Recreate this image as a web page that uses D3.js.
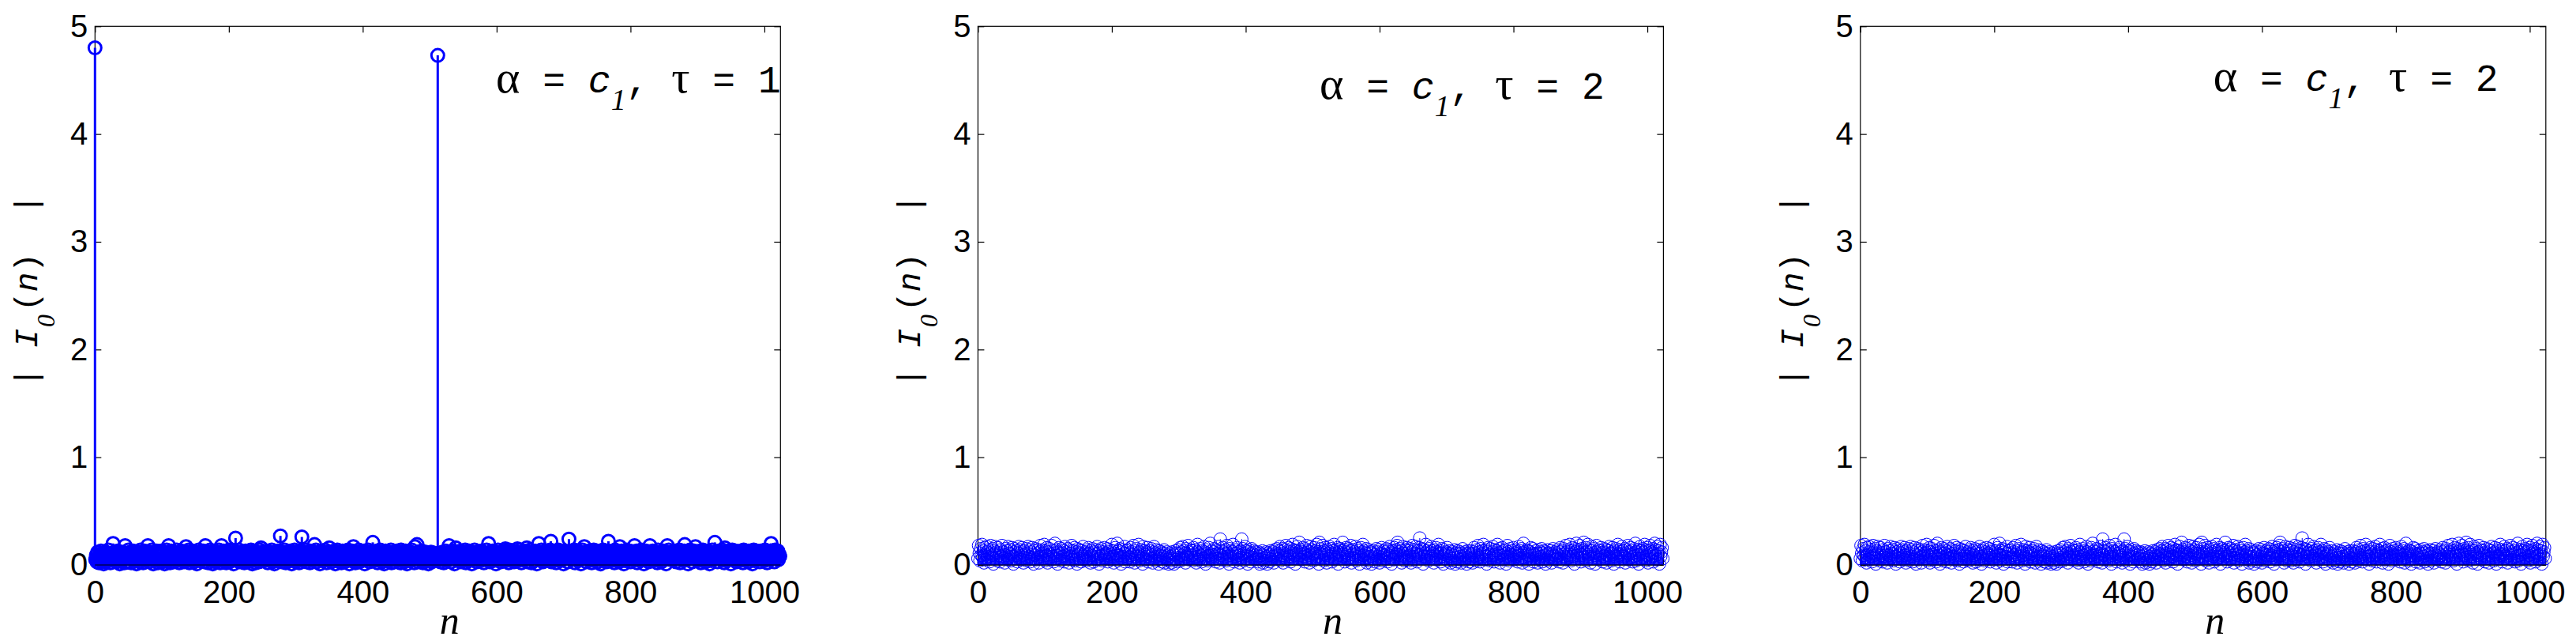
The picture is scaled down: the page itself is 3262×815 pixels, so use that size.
<!DOCTYPE html>
<html><head><meta charset="utf-8">
<script src="https://cdn.jsdelivr.net/npm/d3@7"></script>
<style>
html,body{margin:0;padding:0;background:#fff;}
svg{display:block;}
</style></head>
<body>
<script>
// ---- data (values in hundredths of |I0(n)|, n = 0..1023) ----
const xTicks = [0, 200, 400, 600, 800, 1000];
const yTicks = [0, 1, 2, 3, 4, 5];
const annotations = ["1", "2", "2"]; // tau values

const seriesTau1 = [
480,5,9,3,12,7,2,10,6,13,4,8,11,1,7,9,12,3,6,10,14,5,8,2,11,7,9,20,4,12,6,10,
3,8,13,5,9,1,11,7,12,4,10,6,2,18,8,11,3,9,14,6,7,12,2,10,5,13,8,4,11,9,1,7,
12,6,10,3,14,8,5,11,2,9,13,7,4,10,6,18,12,3,8,11,5,14,9,1,7,12,4,10,13,6,2,9,
8,11,5,13,3,10,7,12,1,9,6,14,4,11,18,8,2,10,13,5,7,12,3,9,11,6,14,4,8,10,2,12,
7,13,5,9,11,3,10,6,17,8,12,4,14,2,9,11,5,7,13,10,3,12,8,6,1,11,9,14,4,10,7,12,
5,9,13,3,8,18,11,6,10,2,12,7,14,4,9,11,1,8,13,6,10,3,12,5,9,14,7,2,11,18,6,10,
13,4,8,11,2,9,12,6,14,3,10,7,5,13,9,1,11,8,25,12,4,10,6,14,3,9,7,12,5,11,8,2,
10,13,6,9,3,12,7,11,4,14,8,1,10,5,13,9,2,12,6,11,7,3,14,8,16,10,5,12,9,4,11,6,
8,13,2,10,7,12,5,9,14,3,11,6,1,12,8,10,4,13,9,6,11,27,7,3,12,10,5,14,8,2,9,11,
6,12,4,10,13,7,1,9,11,5,14,8,3,12,10,6,9,2,13,7,11,26,4,10,8,12,5,14,3,9,11,6,
10,2,13,7,12,4,9,11,19,6,14,3,8,10,5,12,1,9,13,7,11,4,10,6,14,8,2,12,9,5,16,11,
7,3,12,10,6,13,9,1,11,8,14,4,10,5,12,7,2,9,13,6,11,3,10,8,12,5,14,7,1,9,11,4,
13,8,17,6,10,2,12,9,5,11,14,3,7,10,12,4,9,6,13,1,11,8,10,5,14,7,3,12,9,6,11,21,
8,4,12,10,6,13,2,9,11,7,14,5,10,3,12,8,1,9,13,6,11,4,10,7,12,5,14,2,8,11,9,3,
12,6,10,13,4,9,7,11,2,14,8,5,12,10,3,9,13,6,1,11,7,10,4,12,8,14,5,9,11,2,17,10,
6,19,9,3,12,7,10,5,13,8,2,11,9,6,12,4,10,7,1,11,8,5,12,3,9,10,6,11,4,8,7,9,
473,5,10,8,3,11,6,12,9,2,10,7,13,4,11,8,5,18,9,12,3,10,6,13,7,1,11,16,8,12,4,9,
11,6,13,3,10,8,12,5,9,14,2,11,7,10,4,13,8,6,12,1,9,11,5,14,7,10,3,12,8,6,11,9,
4,13,7,10,12,2,9,11,6,14,5,8,20,10,3,12,7,9,13,4,11,6,10,1,12,8,14,5,9,11,3,10,
7,12,6,9,13,15,4,10,8,11,2,14,6,12,9,5,10,13,3,8,11,7,12,15,4,9,6,14,10,2,11,8,
12,5,10,7,13,16,3,9,11,6,14,8,2,12,10,4,9,13,7,11,1,10,6,20,12,8,5,14,9,3,11,10,
6,13,9,4,12,10,7,11,14,22,3,12,8,10,5,13,9,2,11,7,14,6,10,12,4,9,13,8,1,11,10,6,
12,8,3,10,24,11,9,13,5,12,7,10,14,2,9,11,6,13,4,10,8,12,1,9,14,6,11,17,7,10,3,12,
9,5,13,11,7,10,2,12,8,14,4,9,11,6,13,3,10,7,12,1,11,9,5,14,8,10,6,12,3,13,9,22,
10,6,12,4,9,13,8,11,2,14,7,10,5,12,9,3,17,11,6,13,8,10,1,12,4,9,14,7,11,5,10,13,
3,9,12,6,10,8,18,11,5,13,2,10,7,12,9,4,14,11,6,10,1,12,8,13,5,9,11,3,10,18,7,12,
8,13,4,10,11,6,12,9,2,14,7,10,5,12,3,11,9,13,6,8,10,1,12,18,9,14,7,11,5,10,6,12,
11,5,9,13,3,10,8,12,6,14,2,9,11,7,10,4,13,19,8,12,5,10,1,11,9,14,6,12,3,10,7,13,
9,17,6,10,12,4,11,8,13,2,10,7,14,5,9,12,3,11,6,13,8,10,1,12,9,4,14,7,11,10,21,6,
12,8,3,10,13,6,9,11,5,14,7,12,2,16,10,4,11,9,13,6,8,12,1,10,14,5,9,11,7,13,3,10,
6,12,9,4,11,13,8,10,2,14,7,9,12,5,10,11,3,13,8,6,12,10,1,9,14,4,11,7,13,10,5,12,
9,3,11,13,6,10,8,12,4,14,7,10,2,12,9,11,5,13,20,8,10,6,12,3,14,9,11,7,13,5,10,8
];

const seriesTau2 = [
6,18,11,4,15,9,19,7,13,2,16,10,5,17,12,8,14,3,11,18,6,9,15,1,13,10,17,7,12,4,16,9,
11,3,14,8,18,6,12,10,2,15,9,13,5,17,7,11,14,4,10,16,8,1,12,15,6,13,9,3,11,17,7,14,
5,12,16,9,2,13,10,7,15,4,11,17,8,14,3,12,6,16,10,1,13,9,15,5,11,7,14,2,12,18,8,10,
14,6,11,19,4,13,9,16,2,12,7,15,10,5,18,8,13,3,11,20,6,14,9,1,12,16,7,10,4,15,11,8,
13,3,17,9,12,6,15,10,2,14,8,11,18,5,13,7,16,4,10,12,1,15,9,6,14,11,3,13,8,17,5,10,
12,8,4,14,10,16,6,11,2,13,9,15,7,3,12,10,14,5,17,8,11,1,13,6,15,9,4,12,10,16,7,11,
9,15,3,12,7,14,10,5,19,8,13,2,11,16,6,10,20,4,13,9,15,7,1,12,14,8,11,17,3,10,13,6,
14,7,11,3,16,9,12,5,18,10,2,13,8,15,6,11,19,4,12,9,14,7,1,17,10,13,5,12,8,16,3,11,
10,13,6,15,9,2,12,17,7,11,4,14,8,10,1,13,9,6,12,3,11,8,14,2,10,7,12,5,9,1,11,4,
8,2,12,6,10,1,9,13,5,11,3,14,7,10,16,4,12,9,17,6,13,11,2,15,8,10,18,5,12,14,7,9,
13,4,16,10,7,14,2,12,19,8,11,5,15,9,3,13,10,6,17,12,1,14,8,11,4,16,9,20,7,13,10,5,
12,15,8,3,14,10,6,17,11,2,24,9,13,5,16,12,7,10,14,4,18,8,11,1,15,9,13,6,12,19,10,3,
14,8,11,16,5,12,9,2,13,7,24,10,15,4,11,17,6,13,9,1,12,14,8,10,3,15,11,7,13,5,9,12,
6,10,3,12,8,1,11,5,9,13,2,10,7,4,12,8,1,11,6,9,3,13,10,5,8,12,2,14,7,11,9,15,
10,6,13,17,4,12,9,15,2,11,14,7,18,10,5,13,16,8,12,3,15,11,19,6,14,9,1,13,10,17,7,12,
21,9,14,5,12,16,8,11,3,15,10,18,6,13,9,2,12,17,7,14,11,4,16,10,13,6,19,8,12,1,21,11,
15,7,12,18,4,13,10,16,9,2,14,11,6,17,12,8,15,3,13,10,19,5,11,14,7,16,1,12,9,15,6,13,
10,21,8,14,3,12,16,9,11,5,15,7,13,18,2,10,14,6,12,9,17,4,11,15,8,13,1,10,16,7,12,19,
9,13,5,11,15,2,10,7,14,4,12,8,1,11,6,13,9,3,10,15,5,12,8,14,2,11,7,16,10,4,13,9,
12,6,15,10,3,14,9,17,7,12,1,13,11,5,16,8,14,10,18,21,12,9,15,6,13,2,11,17,8,4,10,14,
7,16,11,4,13,9,15,2,12,18,8,14,5,11,17,10,3,13,9,16,25,6,12,10,15,1,14,8,11,19,7,13,
10,4,15,12,8,17,6,13,11,2,14,9,16,5,12,10,19,7,13,3,11,15,8,1,14,10,6,12,9,16,4,11,
8,13,2,10,6,12,4,9,14,1,11,7,3,13,10,5,12,8,2,11,15,6,9,4,12,10,1,13,7,11,3,9,
13,6,10,2,12,16,8,11,4,14,9,18,7,12,3,15,10,6,13,19,11,5,14,8,1,12,16,9,10,4,15,7,
12,17,9,3,14,10,6,13,19,8,11,15,2,12,9,16,5,13,10,7,14,1,11,18,8,12,4,15,10,6,13,9,
16,5,11,14,8,12,3,10,17,9,13,6,15,2,11,20,7,12,10,4,14,8,13,1,12,9,16,6,11,15,3,10,
9,13,7,11,2,14,10,5,12,8,15,3,11,6,13,9,1,12,10,14,4,8,11,7,13,2,10,15,6,9,12,5,
11,7,14,9,3,12,16,6,10,13,2,15,8,11,18,5,12,9,14,7,19,10,4,13,16,8,11,1,15,12,20,9,
14,6,12,18,10,3,15,9,13,21,7,11,16,4,12,19,8,14,10,2,13,17,6,11,15,9,1,12,18,7,10,14,
5,13,9,16,11,3,12,8,15,6,10,2,14,9,13,17,7,11,4,12,16,10,1,13,8,15,6,11,19,9,14,3,
12,10,17,6,13,8,15,2,11,14,9,18,5,12,10,16,7,13,3,11,15,8,20,4,12,9,14,1,10,17,6,13,
11,15,7,12,19,4,14,9,16,2,13,10,18,6,12,8,15,3,11,20,9,14,5,17,10,13,1,19,8,12,16,6
];
const seriesPanel3 = seriesTau2; // third panel shows the same tau = 2 result

// ---- layout ----
const W = 3262, H = 815;
const panels = [
  {data: seriesTau1, left: 120.3, thick: true,  annX: 507.7, annY: 117, tau: annotations[0]},
  {data: seriesTau2, left: 1238.4, thick: false, annX: 432.6, annY: 125, tau: annotations[1]},
  {data: seriesPanel3, left: 2355.8, thick: false, annX: 447, annY: 115, tau: annotations[2]}
];
const pw = 868, plotTop = 33.3, plotBottom = 715;
const blue = "#0000ff";
const tickFont = "'Liberation Sans', Arial, Helvetica, sans-serif";
const mono = "'Liberation Mono', 'Courier New', monospace";
const serif = "'Liberation Serif', 'Times New Roman', serif";
const fmt = d3.format("d");

const svg = d3.select("body").append("svg").attr("width", W).attr("height", H);

panels.forEach(p => {
  const x = d3.scaleLinear().domain([0, 1024]).range([p.left, p.left + pw]);
  const y = d3.scaleLinear().domain([0, 5]).range([plotBottom, plotTop]);
  const g = svg.append("g");

  // box
  g.append("rect").attr("x", x(0)).attr("y", y(5))
    .attr("width", x(1024) - x(0)).attr("height", y(0) - y(5))
    .attr("fill", "none").attr("stroke", "#000").attr("stroke-width", 1.2);

  // axes
  const styleAxis = sel => {
    sel.select(".domain").remove();
    sel.selectAll(".tick line").attr("stroke", "#000").attr("stroke-width", 1.2);
    sel.selectAll(".tick text").attr("fill", "#000")
      .style("font-family", tickFont).style("font-size", "40px");
  };
  g.append("g").attr("transform", `translate(0,${y(0)})`)
    .call(d3.axisBottom(x).tickValues(xTicks).tickFormat(fmt).tickSizeInner(-8).tickSizeOuter(0).tickPadding(20))
    .call(styleAxis);
  g.append("g").attr("transform", `translate(0,${y(5)})`)
    .call(d3.axisTop(x).tickValues(xTicks).tickSizeInner(-8).tickSizeOuter(0).tickFormat(""))
    .call(styleAxis);
  g.append("g").attr("transform", `translate(${x(0)},0)`)
    .call(d3.axisLeft(y).tickValues(yTicks).tickFormat(fmt).tickSizeInner(-8).tickSizeOuter(0).tickPadding(9))
    .call(styleAxis);
  g.append("g").attr("transform", `translate(${x(1024)},0)`)
    .call(d3.axisRight(y).tickValues(yTicks).tickSizeInner(-8).tickSizeOuter(0).tickFormat(""))
    .call(styleAxis);

  // stems
  const pts = p.data.map((v, i) => ({n: i, v: v / 100}));
  const sw = p.thick ? 3 : 1;
  g.append("g").selectAll("line").data(pts).join("line")
    .attr("x1", d => x(d.n)).attr("x2", d => x(d.n))
    .attr("y1", y(0)).attr("y2", d => y(d.v))
    .attr("stroke", blue).attr("stroke-width", sw);
  g.append("g").selectAll("circle").data(pts).join("circle")
    .attr("cx", d => x(d.n)).attr("cy", d => y(d.v))
    .attr("r", 8)
    .attr("fill", "none").attr("stroke", blue).attr("stroke-width", sw);

  // baseline
  g.append("line").attr("x1", x(0)).attr("x2", x(1024))
    .attr("y1", y(0)).attr("y2", y(0)).attr("stroke", "#000").attr("stroke-width", 1.2);

  // x label
  g.append("text").attr("x", (x(0) + x(1024)) / 2 + 15).attr("y", 802)
    .attr("text-anchor", "middle").style("font-family", serif).style("font-style", "italic")
    .style("font-size", "50px").text("n");

  // y label
  const yl = g.append("text")
    .attr("transform", `translate(${p.left - 73},368) rotate(-90)`)
    .attr("text-anchor", "middle").style("font-family", mono).style("font-size", "41px");
  yl.append("tspan").text("| ");
  yl.append("tspan").style("font-style", "italic").text("I");
  yl.append("tspan").style("font-family", serif).style("font-style", "italic")
    .style("font-size", "32px").attr("dx", 2).attr("dy", 22).text("0");
  yl.append("tspan").attr("dx", 4).attr("dy", -22).text("(");
  yl.append("tspan").style("font-style", "italic").text("n");
  yl.append("tspan").text(")");
  yl.append("tspan").text("\u00a0\u00a0|");

  // annotation
  const an = g.append("text").attr("x", p.left + p.annX).attr("y", p.annY)
    .style("font-family", mono).style("font-size", "48px");
  an.append("tspan").style("font-family", serif).style("font-size", "58px").text("\u03b1");
  an.append("tspan").text("\u00a0=\u00a0");
  an.append("tspan").style("font-style", "italic").text("c");
  an.append("tspan").style("font-family", serif).style("font-style", "italic")
    .style("font-size", "38px").attr("dy", 22).text("1");
  an.append("tspan").attr("dy", -22).text(",\u00a0");
  an.append("tspan").style("font-family", serif).style("font-size", "58px").text("\u03c4");
  an.append("tspan").text("\u00a0=\u00a0" + p.tau);
});
</script>
</body></html>
